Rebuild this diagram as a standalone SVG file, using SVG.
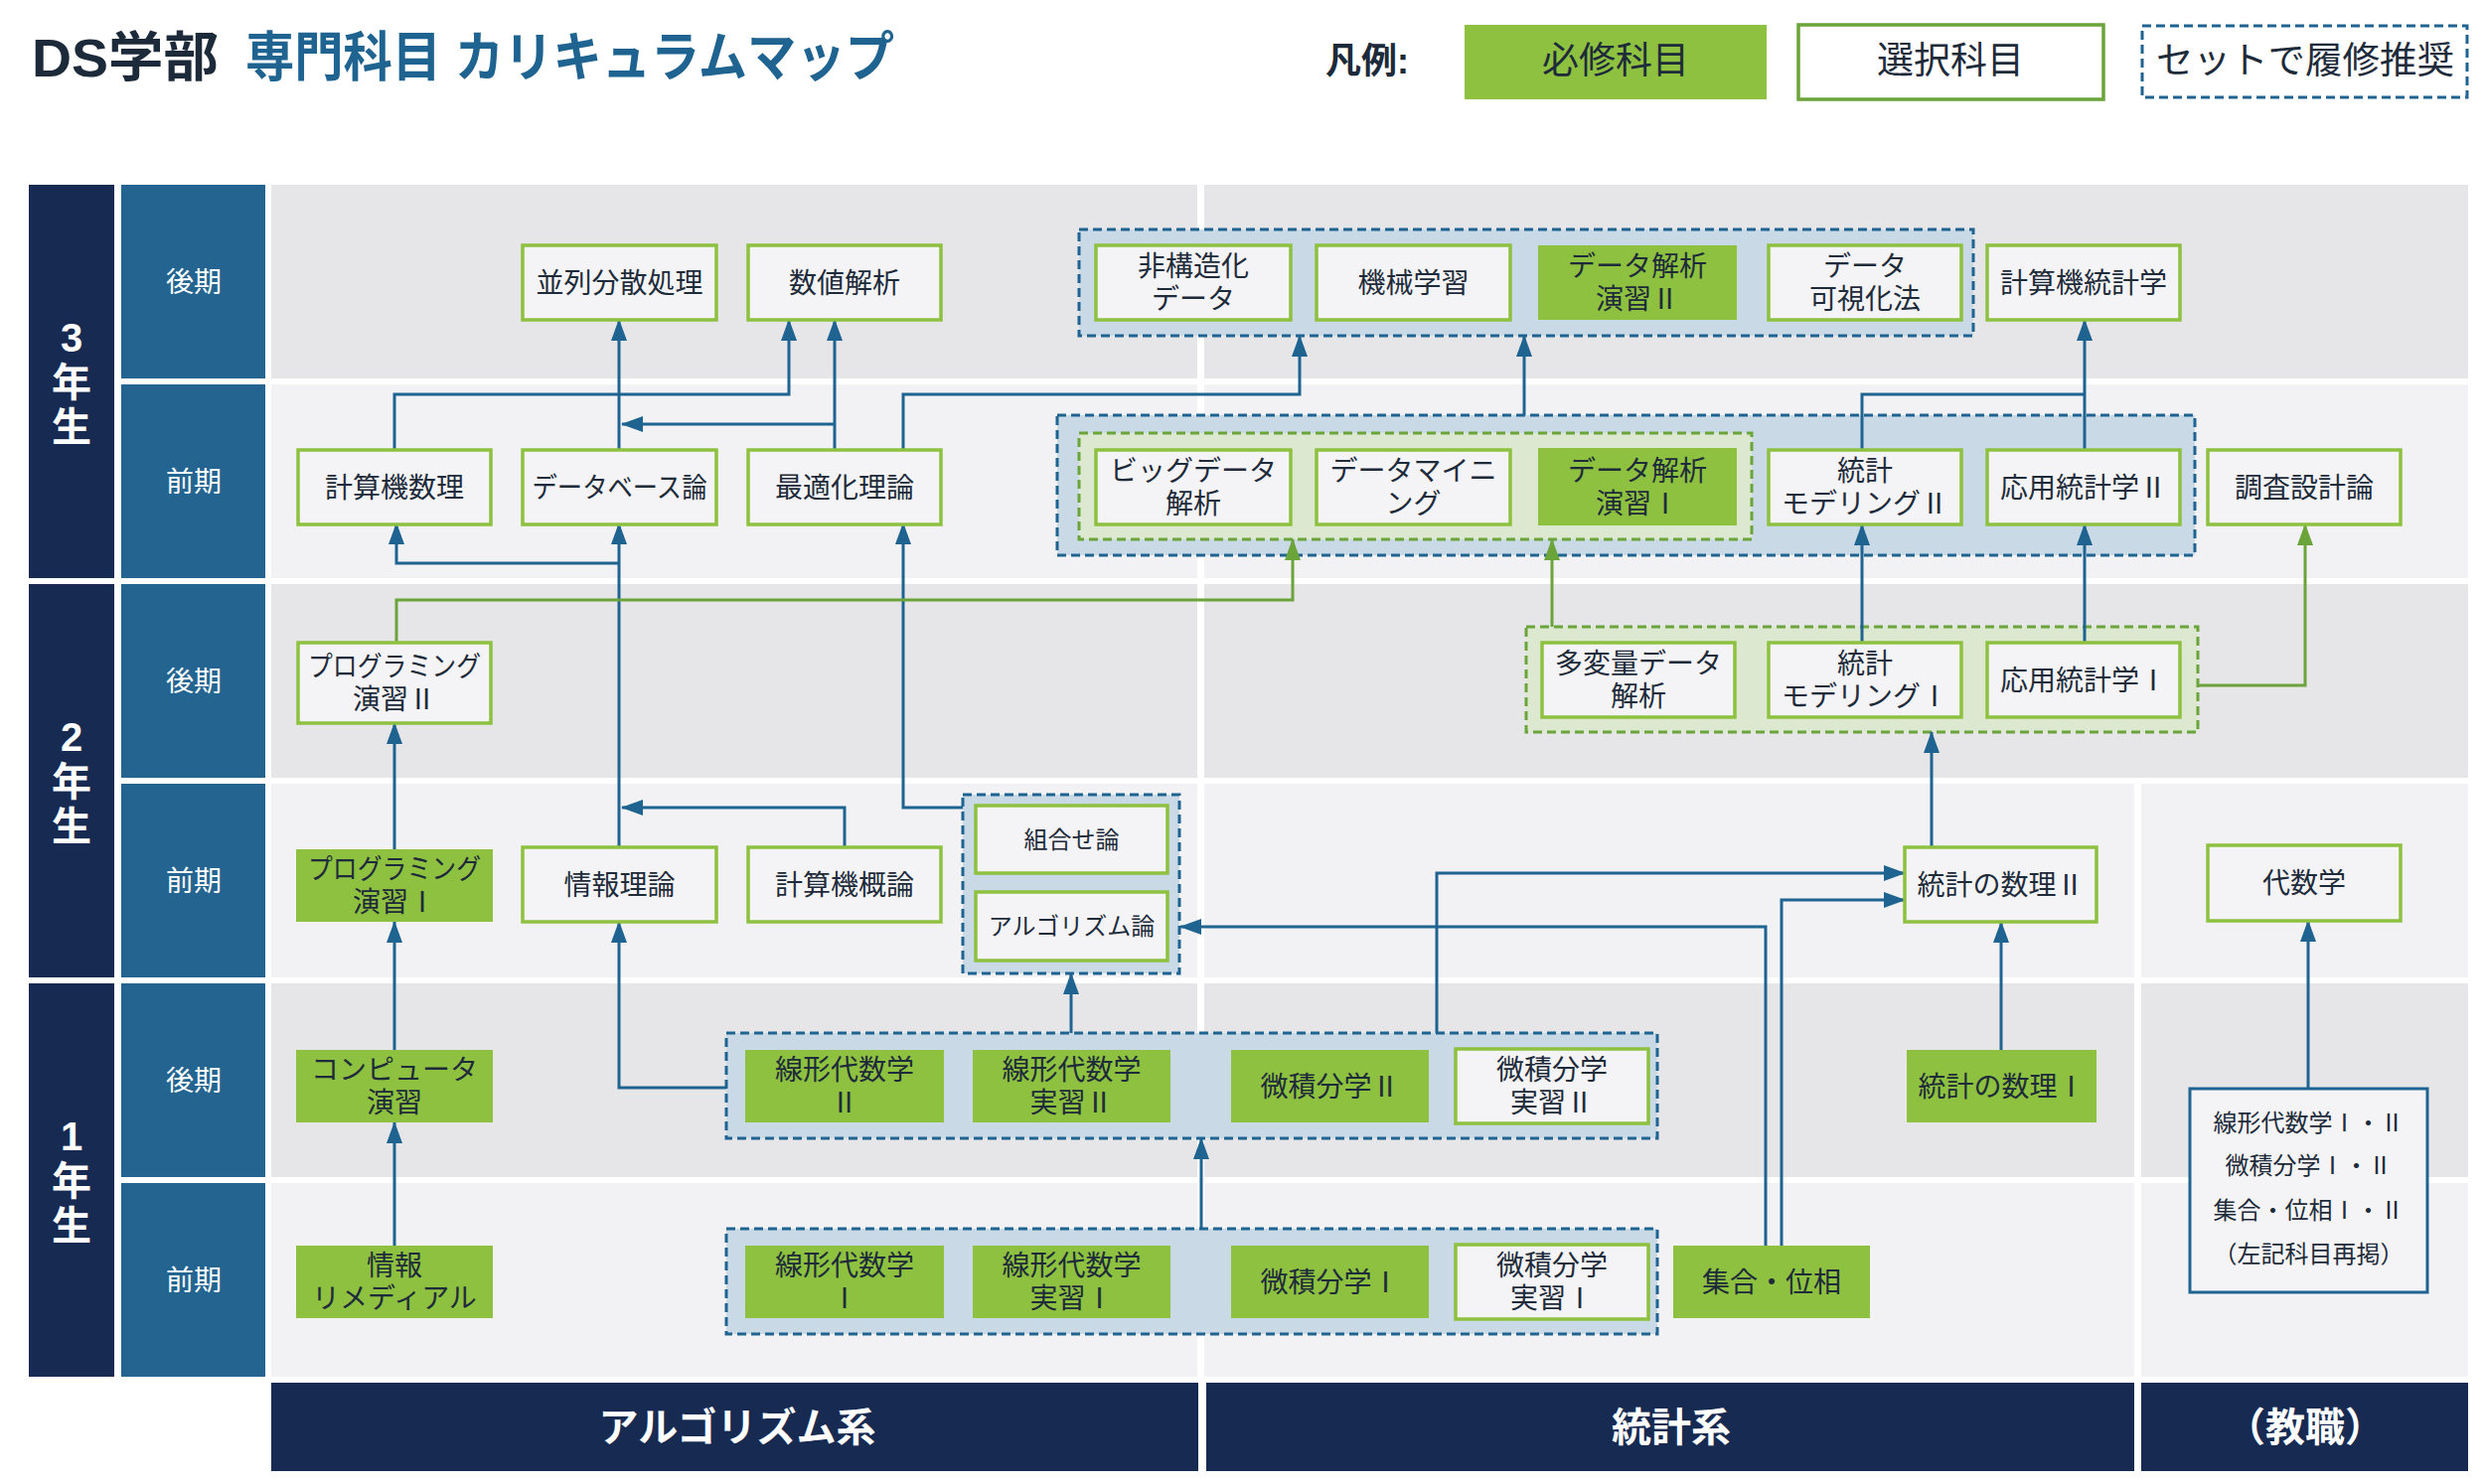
<svg xmlns="http://www.w3.org/2000/svg" width="2500" height="1494" viewBox="0 0 2500 1494">
<defs>
<style>
text{font-family:'Liberation Sans','Noto Sans CJK JP',sans-serif}
.ra{fill:#e6e6e8}
.rb{fill:#f2f2f4}
.yr{fill:#172b52}
.sm{fill:#236590}
.bn{fill:#172b52}
.req{fill:#8dc13f}
.opt{fill:#f4f4f6;stroke:#8dc13f;stroke-width:3.5}
.gb{fill:#c9d9e6;stroke:#1f6391;stroke-width:3;stroke-dasharray:9 5}
.gg{fill:#dce8d0;stroke:#6aa43a;stroke-width:3;stroke-dasharray:9 5}
.t{font-size:28px;fill:#1e2b3a;text-anchor:middle}
.ts{font-size:24px;fill:#1e2b3a;text-anchor:middle}
.yl{font-size:40px;font-weight:bold;fill:#ffffff;text-anchor:middle}
.sl{font-size:28px;fill:#ffffff;text-anchor:middle}
.bt{font-size:40px;font-weight:bold;fill:#ffffff;text-anchor:middle}
.lb{fill:none;stroke:#1f6391;stroke-width:3}
.lg{fill:none;stroke:#6aa43a;stroke-width:3}
</style>
<marker id="ab" markerUnits="userSpaceOnUse" markerWidth="22" markerHeight="16" viewBox="0 0 22 16" refX="21" refY="8" orient="auto"><path d="M0,0 L22,8 L0,16 z" fill="#1f6391"/></marker>
<marker id="ag" markerUnits="userSpaceOnUse" markerWidth="22" markerHeight="16" viewBox="0 0 22 16" refX="21" refY="8" orient="auto"><path d="M0,0 L22,8 L0,16 z" fill="#6aa43a"/></marker>
</defs>
<rect x="0" y="0" width="2500" height="1494" fill="#ffffff"/>

<g id="title">
<text x="32" y="77" font-size="54" font-weight="bold" fill="#1c2a3a" textLength="188" lengthAdjust="spacingAndGlyphs">DS学部</text>
<text x="247" y="77" font-size="54" font-weight="bold" fill="#1f6391" textLength="653" lengthAdjust="spacingAndGlyphs">専門科目 カリキュラムマップ</text>
</g>

<g id="legend">
<text x="1334" y="74" font-size="36" font-weight="bold" fill="#1c2a3a">凡例:</text>
<rect x="1474" y="25" width="304" height="75" fill="#8dc13f"/>
<text x="1626" y="74" font-size="37" fill="#1e2b3a" text-anchor="middle">必修科目</text>
<rect x="1810" y="25" width="307" height="75" fill="#ffffff" stroke="#6aa43a" stroke-width="3.5"/>
<text x="1963" y="74" font-size="37" fill="#1e2b3a" text-anchor="middle">選択科目</text>
<rect x="2156" y="26" width="327" height="72" fill="#ffffff" stroke="#1f6391" stroke-width="3" stroke-dasharray="9 5"/>
<text x="2320" y="74" font-size="37" fill="#1e2b3a" text-anchor="middle" textLength="300" lengthAdjust="spacingAndGlyphs">セットで履修推奨</text>
</g>

<g id="grid">
<rect class="ra" x="273" y="186" width="932" height="195"/>
<rect class="ra" x="1212" y="186" width="1272" height="195"/>
<rect class="rb" x="273" y="387" width="932" height="195"/>
<rect class="rb" x="1212" y="387" width="1272" height="195"/>
<rect class="ra" x="273" y="588" width="932" height="195"/>
<rect class="ra" x="1212" y="588" width="1272" height="195"/>
<rect class="rb" x="273" y="789" width="932" height="195"/>
<rect class="rb" x="1212" y="789" width="936" height="195"/>
<rect class="rb" x="2155" y="789" width="329" height="195"/>
<rect class="ra" x="273" y="990" width="932" height="195"/>
<rect class="ra" x="1212" y="990" width="936" height="195"/>
<rect class="ra" x="2155" y="990" width="329" height="195"/>
<rect class="rb" x="273" y="1191" width="932" height="195"/>
<rect class="rb" x="1212" y="1191" width="936" height="195"/>
<rect class="rb" x="2155" y="1191" width="329" height="195"/>

<rect class="yr" x="29" y="186" width="86" height="396"/>
<rect class="yr" x="29" y="588" width="86" height="396"/>
<rect class="yr" x="29" y="990" width="86" height="396"/>
<text class="yl" x="72" y="354">3<tspan x="72" dy="45">年</tspan><tspan x="72" dy="45">生</tspan></text>
<text class="yl" x="72" y="756">2<tspan x="72" dy="45">年</tspan><tspan x="72" dy="45">生</tspan></text>
<text class="yl" x="72" y="1158">1<tspan x="72" dy="45">年</tspan><tspan x="72" dy="45">生</tspan></text>

<rect class="sm" x="122" y="186" width="145" height="195"/>
<rect class="sm" x="122" y="387" width="145" height="195"/>
<rect class="sm" x="122" y="588" width="145" height="195"/>
<rect class="sm" x="122" y="789" width="145" height="195"/>
<rect class="sm" x="122" y="990" width="145" height="195"/>
<rect class="sm" x="122" y="1191" width="145" height="195"/>
<text class="sl" x="195" y="294">後期</text>
<text class="sl" x="195" y="495">前期</text>
<text class="sl" x="195" y="696">後期</text>
<text class="sl" x="195" y="897">前期</text>
<text class="sl" x="195" y="1098">後期</text>
<text class="sl" x="195" y="1299">前期</text>

<rect class="bn" x="273" y="1392" width="933" height="89"/>
<rect class="bn" x="1214" y="1392" width="934" height="89"/>
<rect class="bn" x="2155" y="1392" width="329" height="89"/>
<text class="bt" x="742" y="1451">アルゴリズム系</text>
<text class="bt" x="1682" y="1451">統計系</text>
<text class="bt" x="2320" y="1451">（教職）</text>
</g>

<g id="sets">
<rect id="set-3b" class="gb" x="1086" y="231" width="900" height="107"/>
<rect id="set-3a" class="gb" x="1064" y="418" width="1145" height="141"/>
<rect id="set-3a-g" class="gg" x="1086" y="436" width="677" height="107"/>
<rect id="set-2b" class="gg" x="1536" y="631" width="676" height="106"/>
<rect id="set-2a" class="gb" x="969" y="800" width="218" height="180"/>
<rect id="set-1b" class="gb" x="731" y="1040" width="937" height="106"/>
<rect id="set-1a" class="gb" x="731" y="1237" width="937" height="106"/>
</g>

<g id="connectors">
<path class="lb" d="M397,1254 V1130" marker-end="url(#ab)"/>
<path class="lb" d="M397,1057 V928" marker-end="url(#ab)"/>
<path class="lb" d="M397,855 V728" marker-end="url(#ab)"/>
<path class="lb" d="M731,1095 H623 V928" marker-end="url(#ab)"/>
<path class="lb" d="M623,853 V527" marker-end="url(#ab)"/>
<path class="lb" d="M623,567 H399 V527" marker-end="url(#ab)"/>
<path class="lb" d="M623,453 V322" marker-end="url(#ab)"/>
<path class="lb" d="M850,853 V813 H626" marker-end="url(#ab)"/>
<path class="lb" d="M840,453 V322" marker-end="url(#ab)"/>
<path class="lb" d="M840,427 H626" marker-end="url(#ab)"/>
<path class="lb" d="M397,453 V397 H794 V322" marker-end="url(#ab)"/>
<path class="lb" d="M909,453 V397 H1308 V338" marker-end="url(#ab)"/>
<path class="lb" d="M969,813 H909 V527" marker-end="url(#ab)"/>
<path class="lg" d="M399,647 V604 H1301 V543" marker-end="url(#ag)"/>
<path class="lb" d="M1078,1040 V980" marker-end="url(#ab)"/>
<path class="lb" d="M1209,1237 V1146" marker-end="url(#ab)"/>
<path class="lb" d="M1446,1040 V879 H1917" marker-end="url(#ab)"/>
<path class="lb" d="M1777,1254 V933 H1188" marker-end="url(#ab)"/>
<path class="lb" d="M1793,1254 V906 H1917" marker-end="url(#ab)"/>
<path class="lb" d="M2014,1057 V928" marker-end="url(#ab)"/>
<path class="lb" d="M2323,1096 V927" marker-end="url(#ab)"/>
<path class="lb" d="M1944,853 V737" marker-end="url(#ab)"/>
<path class="lg" d="M1562,631 V543" marker-end="url(#ag)"/>
<path class="lb" d="M1874,647 V528" marker-end="url(#ab)"/>
<path class="lb" d="M2098,647 V528" marker-end="url(#ab)"/>
<path class="lg" d="M2212,690 H2320 V528" marker-end="url(#ag)"/>
<path class="lb" d="M1534,418 V338" marker-end="url(#ab)"/>
<path class="lb" d="M1874,453 V397 H2098"/>
<path class="lb" d="M2098,453 V322" marker-end="url(#ab)"/>
</g>

<g id="nodes">
<g id="n-heiretsu"><rect class="opt" x="526" y="247" width="195" height="75"/><text class="t" x="623.5" y="294.5">並列分散処理</text></g>
<g id="n-suchi"><rect class="opt" x="753" y="247" width="194" height="75"/><text class="t" x="850" y="294.5">数値解析</text></g>
<g id="n-hikozo"><rect class="opt" x="1103" y="247" width="196" height="75"/><text class="t" x="1201" y="278">非構造化<tspan x="1201" dy="33">データ</tspan></text></g>
<g id="n-kikai"><rect class="opt" x="1325" y="247" width="195" height="75"/><text class="t" x="1422.5" y="294.5">機械学習</text></g>
<g id="n-enshu2"><rect class="req" x="1548" y="247" width="200" height="75"/><text class="t" x="1648" y="278">データ解析<tspan x="1648" dy="33">演習Ⅱ</tspan></text></g>
<g id="n-kashika"><rect class="opt" x="1780" y="247" width="194" height="75"/><text class="t" x="1877" y="278">データ<tspan x="1877" dy="33">可視化法</tspan></text></g>
<g id="n-keisantokei"><rect class="opt" x="2000" y="247" width="194" height="75"/><text class="t" x="2097" y="294.5">計算機統計学</text></g>

<g id="n-surii"><rect class="opt" x="300" y="453" width="194" height="75"/><text class="t" x="397" y="500.5">計算機数理</text></g>
<g id="n-db"><rect class="opt" x="526" y="453" width="195" height="75"/><text class="t" x="623.5" y="500.5" textLength="176" lengthAdjust="spacingAndGlyphs">データベース論</text></g>
<g id="n-saiteki"><rect class="opt" x="753" y="453" width="194" height="75"/><text class="t" x="850" y="500.5">最適化理論</text></g>
<g id="n-bigdata"><rect class="opt" x="1103" y="453" width="196" height="75"/><text class="t" x="1201" y="484">ビッグデータ<tspan x="1201" dy="33">解析</tspan></text></g>
<g id="n-mining"><rect class="opt" x="1325" y="453" width="195" height="75"/><text class="t" x="1422.5" y="484">データマイニ<tspan x="1422.5" dy="33">ング</tspan></text></g>
<g id="n-enshu1"><rect class="req" x="1548" y="451" width="200" height="78"/><text class="t" x="1648" y="484">データ解析<tspan x="1648" dy="33">演習Ⅰ</tspan></text></g>
<g id="n-model2"><rect class="opt" x="1780" y="453" width="194" height="75"/><text class="t" x="1877" y="484">統計<tspan x="1877" dy="33">モデリングⅡ</tspan></text></g>
<g id="n-oyo2"><rect class="opt" x="2000" y="453" width="194" height="75"/><text class="t" x="2097" y="500.5">応用統計学Ⅱ</text></g>
<g id="n-chosa"><rect class="opt" x="2222" y="453" width="194" height="75"/><text class="t" x="2319" y="500.5">調査設計論</text></g>

<g id="n-prog2"><rect class="opt" x="300" y="647" width="194" height="81"/><text class="t" x="397" y="681"><tspan textLength="174" lengthAdjust="spacingAndGlyphs">プログラミング</tspan><tspan x="397" dy="33">演習Ⅱ</tspan></text></g>
<g id="n-tahenryo"><rect class="opt" x="1552" y="647" width="194" height="75"/><text class="t" x="1649" y="678">多変量データ<tspan x="1649" dy="33">解析</tspan></text></g>
<g id="n-model1"><rect class="opt" x="1780" y="647" width="194" height="75"/><text class="t" x="1877" y="678">統計<tspan x="1877" dy="33">モデリングⅠ</tspan></text></g>
<g id="n-oyo1"><rect class="opt" x="2000" y="647" width="194" height="75"/><text class="t" x="2097" y="694.5">応用統計学Ⅰ</text></g>

<g id="n-prog1"><rect class="req" x="298" y="855" width="198" height="73"/><text class="t" x="397" y="885"><tspan textLength="174" lengthAdjust="spacingAndGlyphs">プログラミング</tspan><tspan x="397" dy="33">演習Ⅰ</tspan></text></g>
<g id="n-joho"><rect class="opt" x="526" y="853" width="195" height="75"/><text class="t" x="623.5" y="900.5">情報理論</text></g>
<g id="n-gairon"><rect class="opt" x="753" y="853" width="194" height="75"/><text class="t" x="850" y="900.5">計算機概論</text></g>
<g id="n-kumiawase"><rect class="opt" x="982" y="811" width="193" height="68"/><text class="ts" x="1078.5" y="853.5">組合せ論</text></g>
<g id="n-algo"><rect class="opt" x="982" y="898" width="193" height="69"/><text class="ts" x="1078.5" y="941">アルゴリズム論</text></g>
<g id="n-suri2"><rect class="opt" x="1917" y="853" width="193" height="75"/><text class="t" x="2013.5" y="900.5">統計の数理Ⅱ</text></g>
<g id="n-daisu"><rect class="opt" x="2222" y="851" width="194" height="76"/><text class="t" x="2319" y="899">代数学</text></g>

<g id="n-comp"><rect class="req" x="298" y="1057" width="198" height="73"/><text class="t" x="397" y="1087">コンピュータ<tspan x="397" dy="33">演習</tspan></text></g>
<g id="n-senkei2"><rect class="req" x="750" y="1057" width="200" height="73"/><text class="t" x="850" y="1087">線形代数学<tspan x="850" dy="33">Ⅱ</tspan></text></g>
<g id="n-senkeij2"><rect class="req" x="979" y="1057" width="199" height="73"/><text class="t" x="1078.5" y="1087">線形代数学<tspan x="1078.5" dy="33">実習Ⅱ</tspan></text></g>
<g id="n-biseki2"><rect class="req" x="1239" y="1057" width="199" height="73"/><text class="t" x="1338.5" y="1103.5">微積分学Ⅱ</text></g>
<g id="n-bisekij2"><rect class="opt" x="1465" y="1056" width="194" height="75"/><text class="t" x="1562" y="1087">微積分学<tspan x="1562" dy="33">実習Ⅱ</tspan></text></g>
<g id="n-suri1"><rect class="req" x="1919" y="1057" width="191" height="73"/><text class="t" x="2014.5" y="1103.5">統計の数理Ⅰ</text></g>
<g id="n-saikei"><rect x="2204" y="1096" width="239" height="205" fill="#f4f4f6" stroke="#1f6391" stroke-width="3"/>
<text class="ts" x="2323.5" y="1138.5">線形代数学Ⅰ・Ⅱ<tspan x="2323.5" dy="43">微積分学Ⅰ・Ⅱ</tspan><tspan x="2323.5" dy="45">集合・位相Ⅰ・Ⅱ</tspan><tspan x="2323.5" dy="44">（左記科目再掲）</tspan></text></g>

<g id="n-remedial"><rect class="req" x="298" y="1254" width="198" height="73"/><text class="t" x="397" y="1284">情報<tspan x="397" dy="33">リメディアル</tspan></text></g>
<g id="n-senkei1"><rect class="req" x="750" y="1254" width="200" height="73"/><text class="t" x="850" y="1284">線形代数学<tspan x="850" dy="33">Ⅰ</tspan></text></g>
<g id="n-senkeij1"><rect class="req" x="979" y="1254" width="199" height="73"/><text class="t" x="1078.5" y="1284">線形代数学<tspan x="1078.5" dy="33">実習Ⅰ</tspan></text></g>
<g id="n-biseki1"><rect class="req" x="1239" y="1254" width="199" height="73"/><text class="t" x="1338.5" y="1300.5">微積分学Ⅰ</text></g>
<g id="n-bisekij1"><rect class="opt" x="1465" y="1253" width="194" height="75"/><text class="t" x="1562" y="1284">微積分学<tspan x="1562" dy="33">実習Ⅰ</tspan></text></g>
<g id="n-shugo"><rect class="req" x="1684" y="1254" width="198" height="73"/><text class="t" x="1783" y="1300.5">集合・位相</text></g>
</g>
</svg>
